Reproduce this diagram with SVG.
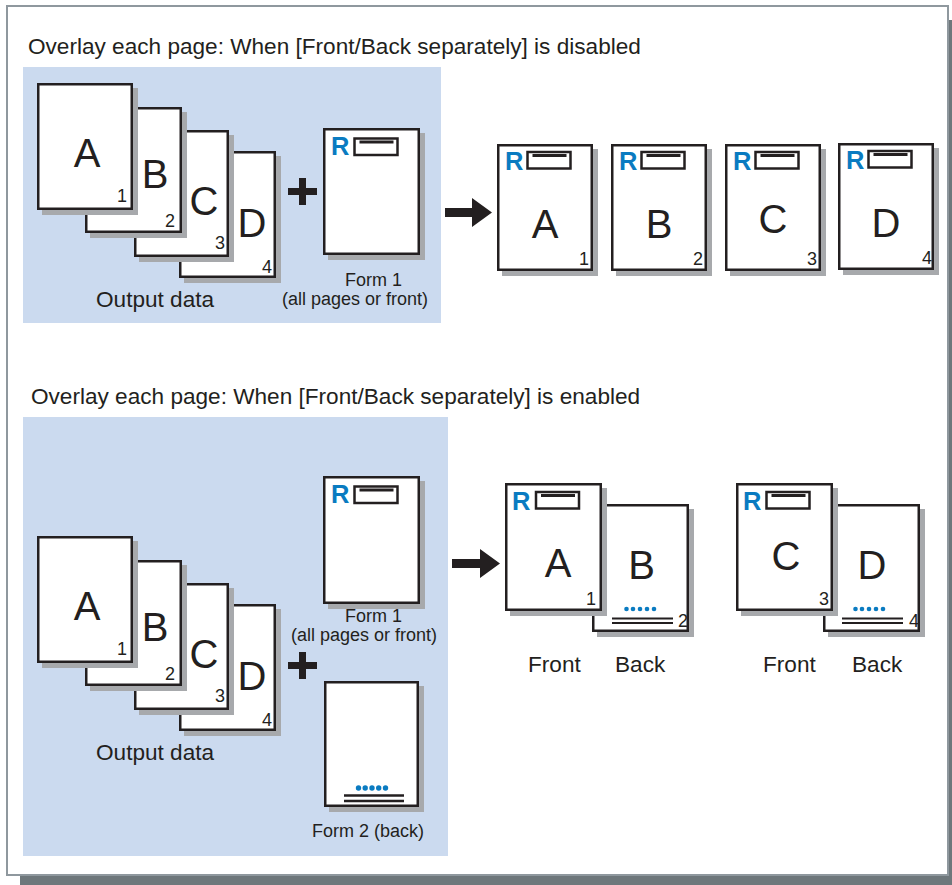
<svg xmlns="http://www.w3.org/2000/svg" width="952" height="885" viewBox="0 0 952 885">
<style>
.pg{fill:#fff;stroke:#231f20;stroke-width:2.5}
.sh{fill:#a7a9ac}
.bx{fill:none;stroke:#231f20;stroke-width:2.5}
.bar{stroke:#231f20;stroke-width:3}
.ln{stroke:#231f20;stroke-width:2}
.dot{fill:#0a7bc1}
.panel{fill:#cbdaef}
text{font-family:"Liberation Sans",Arial,sans-serif;fill:#231f20}
.t22{font-size:22.6px}
.t18{font-size:18px}
.big{font-size:40px;text-anchor:middle}
.num{font-size:18px;text-anchor:end}
.r{font-size:25.5px;font-weight:bold;fill:#0a7bc1}
.blk{fill:#231f20}
</style>
<defs>
<g id="rbox">
<rect class="bx" x="0" y="0" width="43" height="16.5"/>
<line class="bar" x1="5" y1="3.5" x2="39" y2="3.5"/>
</g>
</defs>
<!-- frame -->
<rect x="20" y="20" width="932" height="865" fill="#6e777b"/>
<rect x="7" y="6" width="941" height="869" fill="#fff" stroke="#8f989e" stroke-width="2"/>

<!-- panels -->
<rect id="panel1" class="panel" x="23" y="67" width="418" height="256"/>
<rect id="panel2" class="panel" x="23" y="417" width="425" height="439"/>

<text id="title1" class="t22" x="28" y="54">Overlay each page: When [Front/Back separately] is disabled</text>
<text id="title2" class="t22" x="31" y="404">Overlay each page: When [Front/Back separately] is enabled</text>

<!-- top stack -->
<g id="top-D"><rect class="sh" x="184" y="156" width="97" height="127"/><rect class="pg" x="180.25" y="152.25" width="94.5" height="124.5"/><text class="big" x="252" y="237">D</text><text class="num" x="272" y="273">4</text></g>
<g id="top-C"><rect class="sh" x="139" y="135" width="95" height="127"/><rect class="pg" x="135.25" y="131.25" width="92.5" height="124.5"/><text class="big" x="204" y="215">C</text><text class="num" x="225" y="249">3</text></g>
<g id="top-B"><rect class="sh" x="90" y="112" width="97" height="126"/><rect class="pg" x="86.25" y="108.25" width="94.5" height="123.5"/><text class="big" x="155" y="188">B</text><text class="num" x="175" y="227">2</text></g>
<g id="top-A"><rect class="sh" x="42" y="88" width="96" height="127"/><rect class="pg" x="38.25" y="84.25" width="93.5" height="124.5"/><text class="big" x="87" y="167">A</text><text class="num" x="127" y="202">1</text></g>
<text id="top-output-label" class="t22" x="96" y="307">Output data</text>

<g id="top-plus"><rect class="blk" x="288" y="188" width="29" height="7"/><rect class="blk" x="299" y="178" width="7" height="27"/></g>

<g id="top-form1"><rect class="sh" x="328" y="133" width="97" height="127"/><rect class="pg" x="324.25" y="129.25" width="94.5" height="124.5"/><text class="r" x="331" y="155">R</text><use href="#rbox" x="354.5" y="138.5"/></g>
<text class="t18" x="345" y="286">Form 1</text>
<text class="t18" x="282" y="305">(all pages or front)</text>

<g id="connectors">
<path class="blk" d="M445,208 H472 V198 L492,212.5 L472,227 V217 H445 Z"/>
<path class="blk" d="M452,559 H480 V549 L500,563.5 L480,578 V568 H452 Z"/>
</g>

<!-- top outputs -->
<g id="out-A"><rect class="sh" x="502" y="149" width="96" height="127"/><rect class="pg" x="498.25" y="145.25" width="93.5" height="124.5"/><text class="r" x="505" y="170">R</text><use href="#rbox" x="527.5" y="152"/><text class="big" x="545" y="238">A</text><text class="num" x="589" y="265">1</text></g>
<g id="out-B"><rect class="sh" x="616" y="149" width="96" height="127"/><rect class="pg" x="612.25" y="145.25" width="93.5" height="124.5"/><text class="r" x="619" y="170">R</text><use href="#rbox" x="641.5" y="152"/><text class="big" x="659" y="238">B</text><text class="num" x="703" y="265">2</text></g>
<g id="out-C"><rect class="sh" x="730" y="149" width="96" height="127"/><rect class="pg" x="726.25" y="145.25" width="93.5" height="124.5"/><text class="r" x="733" y="170">R</text><use href="#rbox" x="755.5" y="152"/><text class="big" x="773" y="233">C</text><text class="num" x="817" y="265">3</text></g>
<g id="out-D"><rect class="sh" x="843" y="148" width="96" height="127"/><rect class="pg" x="839.25" y="144.25" width="93.5" height="124.5"/><text class="r" x="846" y="169">R</text><use href="#rbox" x="868.5" y="151"/><text class="big" x="886" y="237">D</text><text class="num" x="932" y="264">4</text></g>

<!-- bottom stack -->
<g id="bot-D"><rect class="sh" x="184" y="609" width="97" height="127"/><rect class="pg" x="180.25" y="605.25" width="94.5" height="124.5"/><text class="big" x="252" y="690">D</text><text class="num" x="272" y="726">4</text></g>
<g id="bot-C"><rect class="sh" x="139" y="588" width="95" height="127"/><rect class="pg" x="135.25" y="584.25" width="92.5" height="124.5"/><text class="big" x="204" y="668">C</text><text class="num" x="225" y="702">3</text></g>
<g id="bot-B"><rect class="sh" x="90" y="565" width="97" height="126"/><rect class="pg" x="86.25" y="561.25" width="94.5" height="123.5"/><text class="big" x="155" y="641">B</text><text class="num" x="175" y="680">2</text></g>
<g id="bot-A"><rect class="sh" x="42" y="541" width="96" height="127"/><rect class="pg" x="38.25" y="537.25" width="93.5" height="124.5"/><text class="big" x="87" y="620">A</text><text class="num" x="127" y="655">1</text></g>
<text id="bot-output-label" class="t22" x="96" y="760">Output data</text>

<g id="bot-plus"><rect class="blk" x="288" y="662" width="29" height="7"/><rect class="blk" x="299" y="652" width="7" height="27"/></g>

<g id="bot-form1"><rect class="sh" x="328" y="481" width="97" height="128"/><rect class="pg" x="324.25" y="477.25" width="94.5" height="125.5"/><text class="r" x="331" y="503">R</text><use href="#rbox" x="354.5" y="486.5"/></g>
<text class="t18" x="345" y="622">Form 1</text>
<text class="t18" x="291" y="641">(all pages or front)</text>

<g id="bot-form2"><rect class="sh" x="329" y="686" width="95" height="126"/><rect class="pg" x="325.25" y="682.25" width="92.5" height="123.5"/>
<circle class="dot" cx="358.5" cy="788" r="2.7"/><circle class="dot" cx="365.2" cy="788" r="2.7"/><circle class="dot" cx="372" cy="788" r="2.7"/><circle class="dot" cx="378.7" cy="788" r="2.7"/><circle class="dot" cx="385.5" cy="788" r="2.7"/>
<line class="ln" x1="344" y1="795.5" x2="404" y2="795.5" style="stroke-width:2.5"/><line class="ln" x1="344" y1="801" x2="404" y2="801" style="stroke-width:2.5"/></g>
<text class="t18" x="312" y="837">Form 2 (back)</text>

<!-- bottom outputs -->
<g id="back-B"><rect class="sh" x="597" y="509" width="97" height="128"/><rect class="pg" x="593.25" y="505.25" width="94.5" height="125.5"/><text class="big" x="641.5" y="579">B</text>
<circle class="dot" cx="626.5" cy="609" r="2.3"/><circle class="dot" cx="633" cy="609" r="2.3"/><circle class="dot" cx="640" cy="609" r="2.3"/><circle class="dot" cx="647" cy="609" r="2.3"/><circle class="dot" cx="654" cy="609" r="2.3"/>
<line class="ln" x1="612" y1="618.5" x2="673" y2="618.5"/><line class="ln" x1="612" y1="623" x2="673" y2="623"/><text class="num" x="688" y="627">2</text></g>
<g id="front-A"><rect class="sh" x="510" y="488" width="97" height="128"/><rect class="pg" x="506.25" y="484.25" width="94.5" height="125.5"/><text class="r" x="512" y="510">R</text><use href="#rbox" x="536" y="492"/><text class="big" x="558" y="577">A</text><text class="num" x="596" y="605">1</text></g>
<g id="back-D"><rect class="sh" x="828" y="509" width="97" height="128"/><rect class="pg" x="824.25" y="505.25" width="94.5" height="125.5"/><text class="big" x="872" y="579">D</text>
<circle class="dot" cx="855.5" cy="609" r="2.3"/><circle class="dot" cx="862" cy="609" r="2.3"/><circle class="dot" cx="869" cy="609" r="2.3"/><circle class="dot" cx="876" cy="609" r="2.3"/><circle class="dot" cx="883" cy="609" r="2.3"/>
<line class="ln" x1="842" y1="618.5" x2="903" y2="618.5"/><line class="ln" x1="842" y1="623" x2="903" y2="623"/><text class="num" x="919" y="627">4</text></g>
<g id="front-C"><rect class="sh" x="741" y="488" width="97" height="128"/><rect class="pg" x="737.25" y="484.25" width="94.5" height="125.5"/><text class="r" x="743" y="510">R</text><use href="#rbox" x="766.5" y="492"/><text class="big" x="786" y="570">C</text><text class="num" x="829" y="605">3</text></g>

<text class="t22" x="528" y="672">Front</text>
<text class="t22" x="615" y="672">Back</text>
<text class="t22" x="763" y="672">Front</text>
<text class="t22" x="852" y="672">Back</text>
</svg>
